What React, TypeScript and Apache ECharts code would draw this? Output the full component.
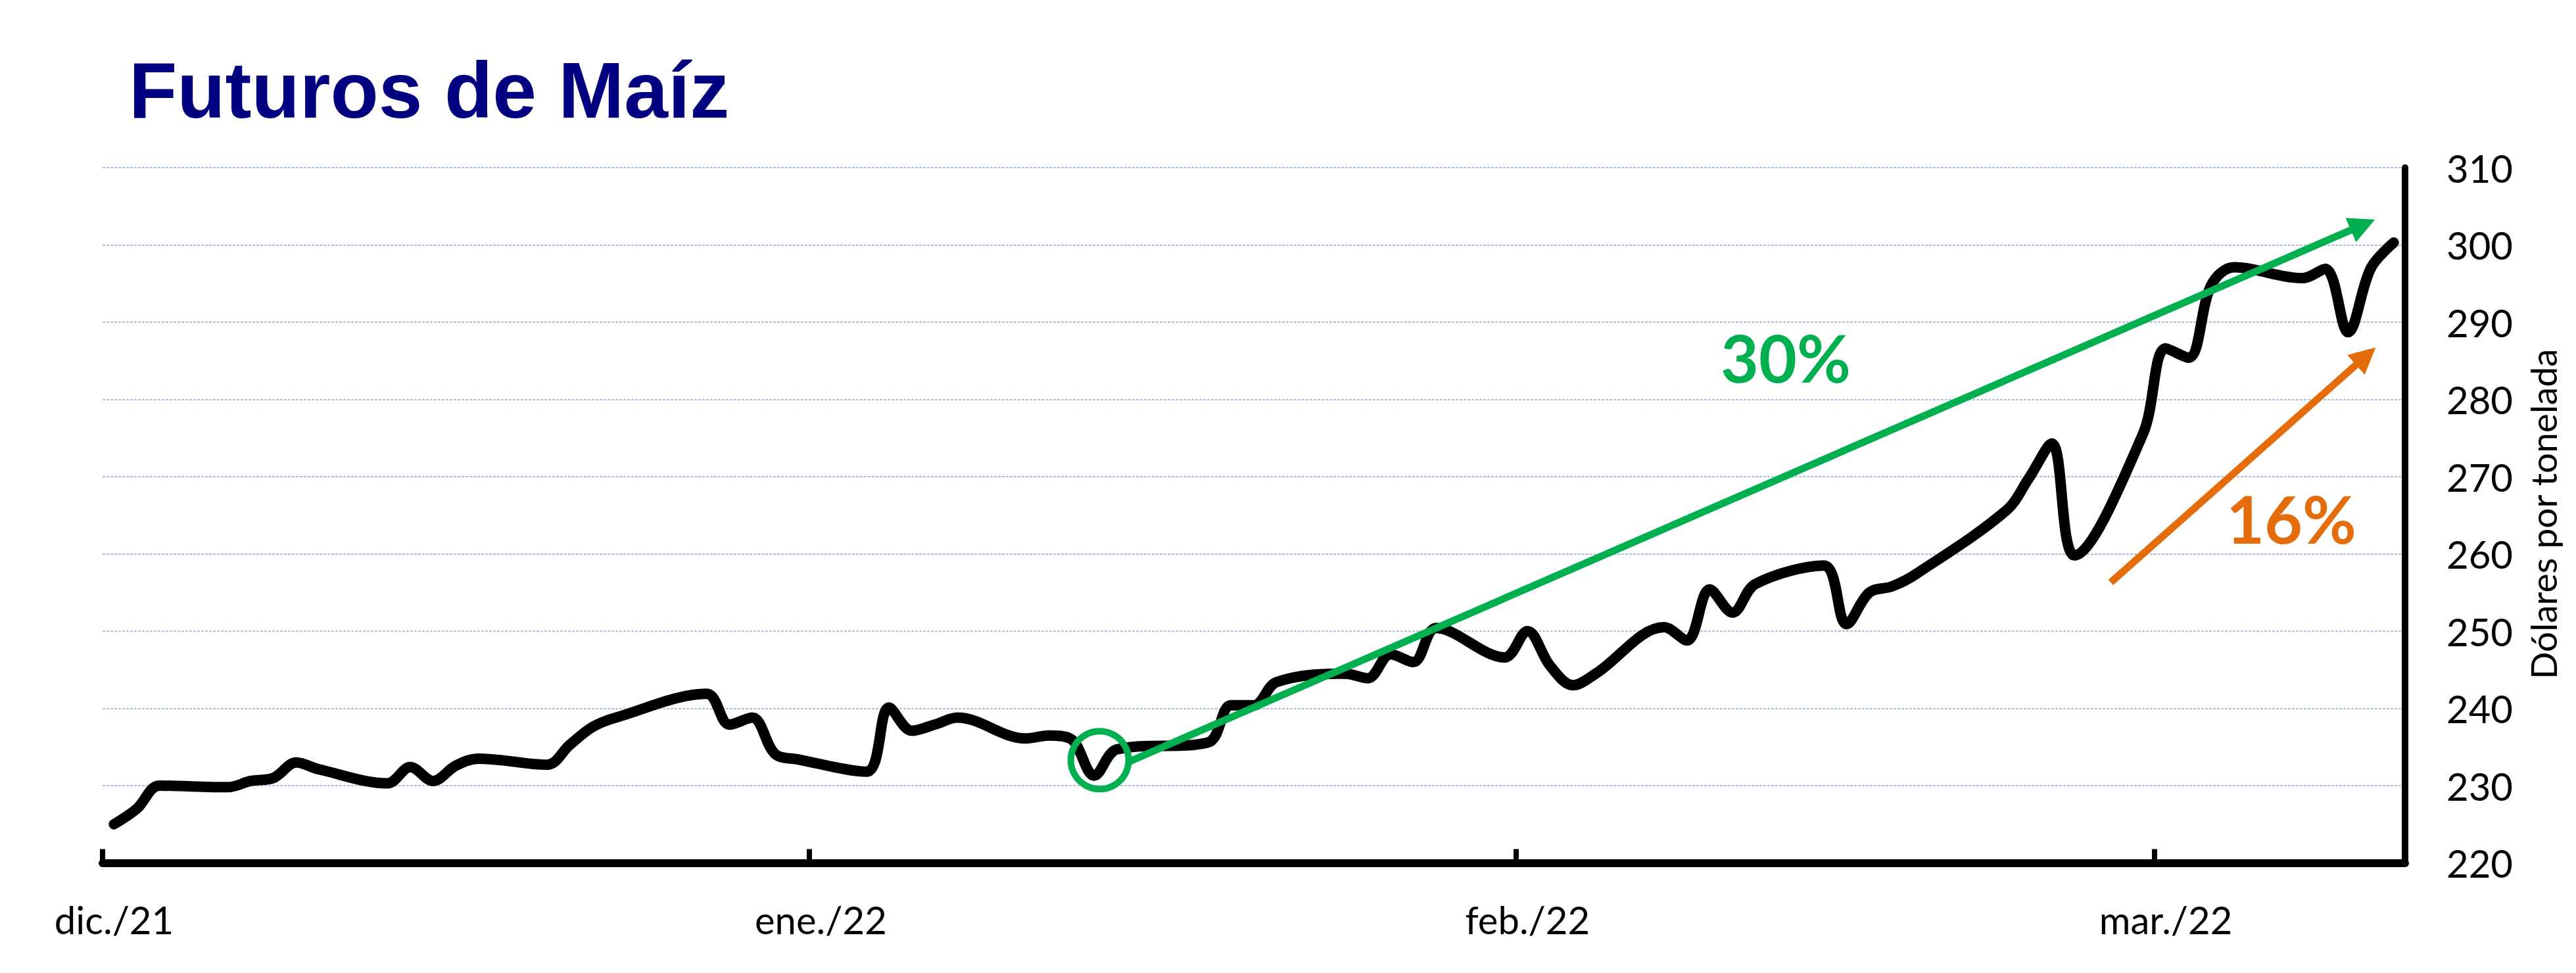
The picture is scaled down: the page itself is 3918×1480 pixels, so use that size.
import React, { useEffect, useRef } from "react";
import * as echarts from "echarts";

// ---- Data (trading days, USD per tonne) ----
const DATES: string[] = [
  "2021-12-01", "2021-12-02", "2021-12-03", "2021-12-06", "2021-12-07", "2021-12-08", "2021-12-09", "2021-12-10",
  "2021-12-13", "2021-12-14", "2021-12-15", "2021-12-16", "2021-12-17", "2021-12-20", "2021-12-21", "2021-12-22",
  "2021-12-23", "2021-12-27", "2021-12-28", "2021-12-29", "2021-12-30", "2021-12-31",
  "2022-01-03", "2022-01-04", "2022-01-05", "2022-01-06", "2022-01-07", "2022-01-10", "2022-01-11", "2022-01-12",
  "2022-01-13", "2022-01-14", "2022-01-18", "2022-01-19", "2022-01-20", "2022-01-21", "2022-01-24", "2022-01-25",
  "2022-01-26", "2022-01-27", "2022-01-28", "2022-01-31",
  "2022-02-01", "2022-02-02", "2022-02-03", "2022-02-04", "2022-02-07", "2022-02-08", "2022-02-09", "2022-02-10",
  "2022-02-11", "2022-02-14", "2022-02-15", "2022-02-16", "2022-02-17", "2022-02-18", "2022-02-22", "2022-02-23",
  "2022-02-24", "2022-02-25", "2022-02-28",
  "2022-03-01", "2022-03-02", "2022-03-03", "2022-03-04", "2022-03-07", "2022-03-08", "2022-03-09", "2022-03-10",
  "2022-03-11",
];
const VALUES: number[] = [
  225.0, 227.0, 230.0, 229.8, 230.6, 231.0, 233.0, 232.1,
  230.3, 232.4, 230.6, 232.6, 233.5, 232.7, 235.3, 237.6,
  238.8, 241.9, 237.9, 238.8, 234.1, 233.4,
  231.8, 240.1, 237.1, 237.9, 238.8, 236.1, 236.5, 236.0,
  231.3, 234.7, 235.6, 240.4, 240.4, 243.4, 244.5, 243.9,
  247.0, 246.0, 250.4, 246.6,
  250.0, 245.5, 243.0, 244.5, 250.5, 248.8, 255.4, 252.4,
  256.1, 258.5, 250.9, 255.0, 255.8, 257.3, 265.6, 269.8,
  274.3, 259.8, 275.5,
  286.6, 285.4, 294.8, 297.1, 295.7, 296.9, 288.7, 297.0,
  300.3,
];

const MONTH_TICKS: string[] = ["2021-12-01", "2022-01-01", "2022-02-01", "2022-03-01"];
const MONTH_LABELS: string[] = ["dic./21", "ene./22", "feb./22", "mar./22"];
const X_START = "2021-12-01";
const X_END = "2022-03-12";
const Y_MIN = 220;
const Y_MAX = 310;
const Y_STEP = 10;

// Annotations in data space: [days after X_START, value]
const GREEN_ARROW: [number, number][] = [[45.07, 233.15], [99.15, 302.6]];
const ORANGE_ARROW: [number, number][] = [[88.09, 256.3], [99.28, 285.6]];
const LOW_CIRCLE: [number, number] = [43.74, 233.3];

const TITLE = "Futuros de Maíz";
const Y_NAME = "Dólares por tonelada";
const GREEN_LABEL = "30%";
const ORANGE_LABEL = "16%";

const GREEN = "#00B050";
const ORANGE = "#E46C0A";
const NAVY = "#000080";

const DAY = 86400000;
function ts(s: string, hour = 0): number {
  const [y, m, d] = s.split("-").map(Number);
  return Date.UTC(y, m - 1, d, hour);
}
const dayCoord = (p: [number, number]): [number, number] => [ts(X_START) + p[0] * DAY, p[1]];

export default function App() {
  const ref = useRef<HTMLDivElement>(null);

  useEffect(() => {
    if (!ref.current) return;
    const chart = echarts.init(ref.current, undefined, { renderer: "svg" });
    const tickVals = MONTH_TICKS.map((s) => ts(s));
    const data = DATES.map((d, i) => [ts(d, 12), VALUES[i]]);

    const option: any = {
      animation: false,
      backgroundColor: "#ffffff",
      grid: { left: 156, right: 260, top: 255, bottom: 167.5, containLabel: false },
      xAxis: {
        type: "value",
        min: ts(X_START),
        max: ts(X_END),
        axisLine: { show: true, onZero: false, lineStyle: { color: "#000", width: 12 } },
        axisTick: {
          show: true,
          inside: true,
          length: 21,
          customValues: tickVals,
          lineStyle: { color: "#000", width: 8 },
        },
        axisLabel: {
          customValues: tickVals,
          formatter: (v: number) => {
            const i = tickVals.indexOf(v);
            return i >= 0 ? MONTH_LABELS[i] : "";
          },
          fontFamily: "Lato",
          fontSize: 58,
          color: "#000",
          margin: 57,
          padding: [0, 0, 0, 35],
        },
        splitLine: { show: false },
      },
      yAxis: {
        type: "value",
        position: "right",
        min: Y_MIN,
        max: Y_MAX,
        interval: Y_STEP,
        axisLine: { show: true, onZero: false, lineStyle: { color: "#000", width: 10 } },
        axisTick: { show: false },
        axisLabel: { fontFamily: "Lato", fontSize: 58, color: "#000", margin: 63 },
        splitLine: { show: true, lineStyle: { color: "#8FAADC", width: 1.5, type: [4, 2] } },
      },
      series: [
        {
          type: "line",
          data,
          showSymbol: false,
          smooth: 0.35,
          lineStyle: { color: "#000", width: 16, cap: "round", join: "round" },
          markLine: {
            silent: true,
            animation: false,
            symbol: ["none", "triangle"],
            symbolSize: [40, 40],
            label: { show: false },
            data: [
              [
                { coord: dayCoord(GREEN_ARROW[0]), lineStyle: { color: GREEN, width: 11, type: "solid" }, itemStyle: { color: GREEN } },
                { coord: dayCoord(GREEN_ARROW[1]) },
              ],
              [
                { coord: dayCoord(ORANGE_ARROW[0]), lineStyle: { color: ORANGE, width: 11, type: "solid" }, itemStyle: { color: ORANGE } },
                { coord: dayCoord(ORANGE_ARROW[1]) },
              ],
            ],
          },
          markPoint: {
            silent: true,
            animation: false,
            symbol: "circle",
            symbolSize: 88,
            label: { show: false },
            itemStyle: { color: "rgba(0,0,0,0)", borderColor: GREEN, borderWidth: 10 },
            data: [{ coord: dayCoord(LOW_CIRCLE) }],
          },
        },
      ],
      graphic: [
        {
          type: "text",
          x: 196,
          y: 137,
          style: {
            text: TITLE,
            fill: NAVY,
            font: 'bold 120px "Liberation Sans", Arial, sans-serif',
            align: "left",
            verticalAlign: "middle",
          },
        },
        {
          type: "text",
          x: 3868,
          y: 782,
          rotation: Math.PI / 2,
          style: {
            text: Y_NAME,
            fill: "#000",
            font: '55px Lato, "Noto Sans", sans-serif',
            align: "center",
            verticalAlign: "middle",
          },
        },
        {
          type: "text",
          x: 2716,
          y: 543,
          style: {
            text: GREEN_LABEL,
            fill: GREEN,
            font: 'bold 100px Lato, "Noto Sans", sans-serif',
            align: "center",
            verticalAlign: "middle",
          },
        },
        {
          type: "text",
          x: 3485,
          y: 788,
          style: {
            text: ORANGE_LABEL,
            fill: ORANGE,
            font: 'bold 100px Lato, "Noto Sans", sans-serif',
            align: "center",
            verticalAlign: "middle",
          },
        },
      ],
    };

    chart.setOption(option);
    return () => chart.dispose();
  }, []);

  return (
    <div
      ref={ref}
      style={{ position: "absolute", left: 0, top: 0, width: 3918, height: 1480, background: "#fff" }}
    />
  );
}
